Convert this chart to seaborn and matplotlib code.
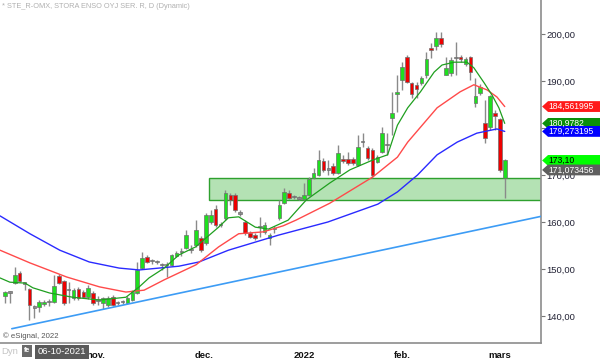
import numpy as np
import pandas as pd
import matplotlib
matplotlib.use("Agg")
import matplotlib.pyplot as plt
import matplotlib.transforms as mtransforms
from matplotlib.patches import Polygon, Rectangle
import seaborn as sns

# ---------------- data ----------------
opens = [144.3, 145.1, 147.0, 149.2, 147.0, 145.7, 141.9, 141.9, 142.6, 143.0,
         143.0, 148.5, 147.4, 145.5, 143.8, 145.7, 145.1, 144.0, 144.9, 143.4,
         142.8, 142.3, 144.0, 142.8, 143.0, 142.8, 143.4, 144.9, 150.2, 152.5,
         151.7, 151.5, 150.9, 150.8, 150.9, 152.8, 153.6, 154.5, 154.0, 155.1,
         156.6, 155.5, 160.0, 162.8, 159.4, 160.9, 165.7, 165.7, 161.9, 160.0,
         157.7, 157.2, 158.9, 157.9, 156.6, 158.5, 160.9, 164.0, 166.2, 165.3,
         165.1, 164.9, 165.7, 169.4, 170.0, 173.0, 171.1, 171.9, 170.4, 173.4,
         173.4, 173.4, 172.1, 177.0, 175.7, 175.3, 172.8, 174.9, 176.4, 182.1,
         187.2, 190.2, 195.1, 189.6, 189.2, 189.6, 191.3, 197.0, 197.5, 199.2,
         191.3, 191.7, 194.9, 195.1, 193.6, 195.1, 185.3, 187.4, 181.1, 180.2,
         183.2, 181.9, 169.4]
highs = [145.3, 145.3, 150.4, 149.6, 147.2, 146.0, 142.3, 143.4, 143.4, 143.6,
         148.7, 148.9, 147.7, 147.2, 146.0, 146.2, 145.5, 146.6, 145.3, 144.3,
         144.0, 144.3, 144.5, 143.2, 143.4, 144.3, 145.5, 151.5, 153.6, 153.0,
         152.1, 151.9, 151.3, 151.5, 153.2, 153.8, 154.5, 158.3, 155.1, 160.4,
         157.0, 161.9, 162.5, 163.6, 160.0, 166.8, 166.2, 166.2, 162.6, 160.4,
         158.1, 157.7, 161.1, 160.0, 157.7, 159.2, 164.7, 167.2, 166.8, 165.7,
         165.5, 168.3, 169.6, 171.5, 175.3, 173.6, 173.2, 172.5, 176.4, 174.3,
         174.9, 173.8, 178.5, 178.9, 176.2, 175.7, 174.3, 180.2, 178.9, 187.7,
         191.3, 194.0, 195.5, 189.8, 189.8, 191.1, 196.2, 198.1, 200.4, 200.4,
         195.1, 195.1, 198.3, 195.5, 195.1, 195.3, 190.6, 189.4, 186.0, 187.0,
         183.8, 182.1, 173.3]
lows = [142.8, 142.8, 146.8, 147.2, 145.5, 139.2, 139.6, 140.9, 142.1, 142.1,
        142.8, 146.8, 142.3, 142.8, 143.4, 143.4, 143.8, 143.6, 142.3, 142.3,
        141.5, 141.9, 142.1, 142.3, 142.5, 142.5, 143.2, 144.7, 150.0, 151.3,
        151.1, 151.1, 149.8, 148.3, 150.6, 152.5, 152.8, 154.3, 153.4, 154.7,
        153.6, 155.1, 159.6, 158.9, 158.9, 160.4, 163.6, 162.1, 161.3, 157.2,
        156.6, 156.2, 156.8, 157.4, 155.1, 157.7, 160.4, 163.8, 164.9, 164.9,
        164.7, 164.7, 165.5, 169.1, 169.8, 170.6, 170.0, 170.0, 170.2, 172.5,
        172.1, 172.1, 171.9, 176.0, 173.2, 169.4, 172.5, 174.7, 174.3, 178.5,
        183.4, 188.1, 189.6, 186.4, 186.4, 189.2, 190.6, 194.9, 196.6, 197.2,
        191.3, 191.1, 191.3, 194.0, 193.2, 190.2, 184.5, 187.0, 176.8, 179.6,
        179.6, 170.6, 165.1]
closes = [145.1, 145.0, 148.7, 147.4, 146.9, 142.3, 141.8, 143.0, 143.0, 143.1,
          146.4, 147.0, 142.8, 145.6, 145.5, 143.8, 144.0, 146.0, 142.8, 143.3,
          143.8, 143.8, 142.3, 142.7, 143.0, 143.8, 145.1, 149.8, 152.3, 151.5,
          151.6, 151.4, 150.8, 150.9, 153.0, 153.4, 153.6, 157.2, 154.1, 158.3,
          154.0, 161.5, 161.5, 159.4, 159.3, 166.2, 164.7, 162.6, 161.8, 157.7,
          156.8, 156.6, 159.0, 159.4, 157.2, 158.6, 163.6, 166.4, 165.1, 165.4,
          165.0, 165.7, 169.1, 170.4, 173.2, 171.1, 171.2, 170.4, 174.7, 173.0,
          172.5, 172.5, 176.0, 177.1, 173.6, 170.0, 173.8, 178.9, 176.3, 183.2,
          187.7, 193.0, 189.8, 187.2, 188.3, 190.6, 194.7, 196.6, 199.2, 197.9,
          192.8, 194.5, 194.8, 194.7, 194.7, 191.9, 186.8, 188.7, 177.9, 186.8,
          182.5, 171.1, 173.1]

# moving averages, sampled points (candle index, price)
ma_fast_idx = [-1.0, 1.0, 4.1, 5.7, 9.1, 13.8, 19.3, 24.7, 27.4, 29.4, 32.5, 35.5,
               38.9, 43.6, 45.6, 47.7, 51.1, 53.8, 57.8, 61.5, 66.3, 70.4, 75.1,
               78.1, 80.1, 82.2, 84.8, 87.6, 89.2, 91.7, 94.3, 95.7, 97.8, 99.4,
               100.8, 102.0]
ma_fast_val = [148.1, 147.2, 147.0, 146.0, 144.9, 144.0, 143.4, 144.0, 146.2, 148.1,
               150.2, 153.0, 154.7, 158.9, 160.9, 161.1, 158.9, 158.5, 160.4, 164.7,
               168.3, 171.1, 173.2, 174.3, 180.6, 184.3, 187.7, 191.9, 193.4, 194.0,
               194.0, 192.8, 189.6, 187.0, 184.3, 180.98]
ma_mid_idx = [-1.0, 5.1, 12.6, 19.3, 24.7, 28.4, 32.5, 39.0, 43.6, 47.7, 52.7, 56.8,
              59.4, 66.3, 75.1, 80.1, 82.2, 88.2, 92.9, 95.7, 98.4, 100.4, 102.0]
ma_mid_val = [154.0, 151.3, 148.3, 146.2, 145.1, 145.5, 147.7, 150.9, 154.7, 157.5,
              157.9, 159.2, 160.4, 164.0, 169.6, 173.8, 177.0, 184.3, 187.7, 189.2,
              188.1, 186.6, 184.56]
ma_slow_idx = [-1.0, 5.1, 11.2, 17.2, 23.3, 27.4, 35.5, 39.6, 45.6, 55.8, 65.9, 76.1,
               80.1, 84.2, 88.2, 92.3, 96.3, 100.4, 102.0]
ma_slow_val = [161.3, 157.5, 154.0, 151.5, 150.2, 149.8, 150.6, 151.5, 154.0, 157.2,
               160.0, 163.8, 166.4, 170.0, 174.3, 177.0, 178.9, 179.8, 179.27]

trend_idx = [1.4, 109.4]
trend_val = [137.3, 161.2]

zone_start = 41.6
zone_low, zone_high = 164.7, 169.45

month_idx = [18.6, 40.6, 61.0, 81.0, 101.0]
month_lbl = ["nov.", "dec.", "2022", "feb.", "mars"]

yticks = [140, 150, 160, 170, 180, 190, 200]

tags = [(184.561995, "184,561995", "#ff1a1a", "white"),
        (180.9782, "180,9782", "#0a8f0a", "white"),
        (179.273195, "179,273195", "#0000ff", "white"),
        (173.10, "173,10", "#00ff00", "black"),
        (171.073456, "171,073456", "#5f5f5f", "white")]

# ---------------- plot ----------------
sns.set_theme(style="white")
plt.rcParams["font.family"] = ["Liberation Sans", "DejaVu Sans"]

df = pd.DataFrame({"o": opens, "h": highs, "l": lows, "c": closes})
df["idx"] = np.arange(len(df))

fig = plt.figure(figsize=(6, 3.59), dpi=100)
ax = fig.add_axes([0, 16 / 359, 541 / 600, 343 / 359])
ax.set_facecolor("white")

# support zone
ax.add_patch(Rectangle((zone_start, zone_low), 200, zone_high - zone_low,
                       facecolor="#b4e2b4", edgecolor="#2ea02e", linewidth=1.0, zorder=1))

# candles
diff = df["c"] - df["o"]
cols = np.where(diff.abs() < 0.15, "#8c8c8c", np.where(diff > 0, "#1ee01e", "#ee0000"))
ax.vlines(df["idx"], df["l"], df["h"], color="#8a8a8a", linewidth=1.0, zorder=2)
bottoms = np.minimum(df["o"], df["c"])
heights = np.maximum(diff.abs(), 0.3)
ax.bar(df["idx"], heights, bottom=bottoms, width=0.72, color=cols,
       edgecolor="#6e6e6e", linewidth=0.5, zorder=3)

# moving averages and trendline
sns.lineplot(x=ma_slow_idx, y=ma_slow_val, ax=ax, color="#2a2aff", linewidth=1.0, zorder=4)
sns.lineplot(x=ma_mid_idx, y=ma_mid_val, ax=ax, color="#ff4a4a", linewidth=1.0, zorder=4)
sns.lineplot(x=ma_fast_idx, y=ma_fast_val, ax=ax, color="#1f9f1f", linewidth=0.9, zorder=4)
sns.lineplot(x=trend_idx, y=trend_val, ax=ax, color="#3d9cf5", linewidth=1.2, zorder=4)

ax.set_xlim(-1.01, 109.4)
ax.set_ylim(134.26, 207.23)

for s in ["top", "left"]:
    ax.spines[s].set_visible(False)
for s in ["right", "bottom"]:
    ax.spines[s].set_color("#8c8c8c")
    ax.spines[s].set_linewidth(1.2)

ax.yaxis.tick_right()
ax.set_yticks(yticks)
ax.set_yticklabels([f"{v:.2f}".replace(".", ",") for v in yticks])
ax.tick_params(axis="y", direction="out", length=3, width=0.8, color="#777777",
               labelsize=6.8, labelcolor="#222235", pad=1)
ax.set_xticks(month_idx)
ax.set_xticklabels(month_lbl, fontweight="bold")
ax.tick_params(axis="x", direction="out", length=3, width=0.8, color="#777777",
               labelsize=6.8, labelcolor="#111111", pad=3)
ax.set_xlabel("")
ax.set_ylabel("")
ax.grid(False)

# price tags on the right
blend = mtransforms.blended_transform_factory(ax.transAxes, ax.transData)
hh = 1.15
for val, txt, face, tc in tags:
    poly = [(1.002, val), (1.013, val + hh), (1.12, val + hh), (1.12, val - hh), (1.013, val - hh)]
    ax.add_patch(Polygon(poly, closed=True, transform=blend, facecolor=face,
                         edgecolor="none", clip_on=False, zorder=6))
    ax.text(1.014, val, txt, transform=blend, ha="left", va="center", color=tc,
            fontsize=6.2, clip_on=False, zorder=7)

# header / footer texts
fig.text(2 / 600, 1 - 7 / 359, "* STE_R-OMX, STORA ENSO OYJ SER. R, D (Dynamic)",
         fontsize=5.3, color="#b0b0b0", ha="left", va="center")
fig.text(3 / 600, 1 - 336 / 359, "\u00a9 eSignal, 2022", fontsize=5.6,
         color="#555555", ha="left", va="center")
fig.text(1 / 600, 1 - 352 / 359, "Dyn", fontsize=6.8, color="#c4c4c4",
         ha="left", va="center")
fig.patches.append(Rectangle((22 / 600, 1 - 357 / 359), 10 / 600, 12 / 359,
                             transform=fig.transFigure, facecolor="#6a6a6a",
                             edgecolor="none"))
fig.text(27 / 600, 1 - 351 / 359, "fe", fontsize=5, color="white",
         ha="center", va="center", fontweight="bold")
fig.text(62 / 600, 1 - 352 / 359, "06-10-2021", fontsize=6.8, color="white",
         ha="center", va="center",
         bbox=dict(boxstyle="square,pad=0.25", facecolor="#5a5a5a", edgecolor="none"))

fig.savefig("out.png", dpi=100)
